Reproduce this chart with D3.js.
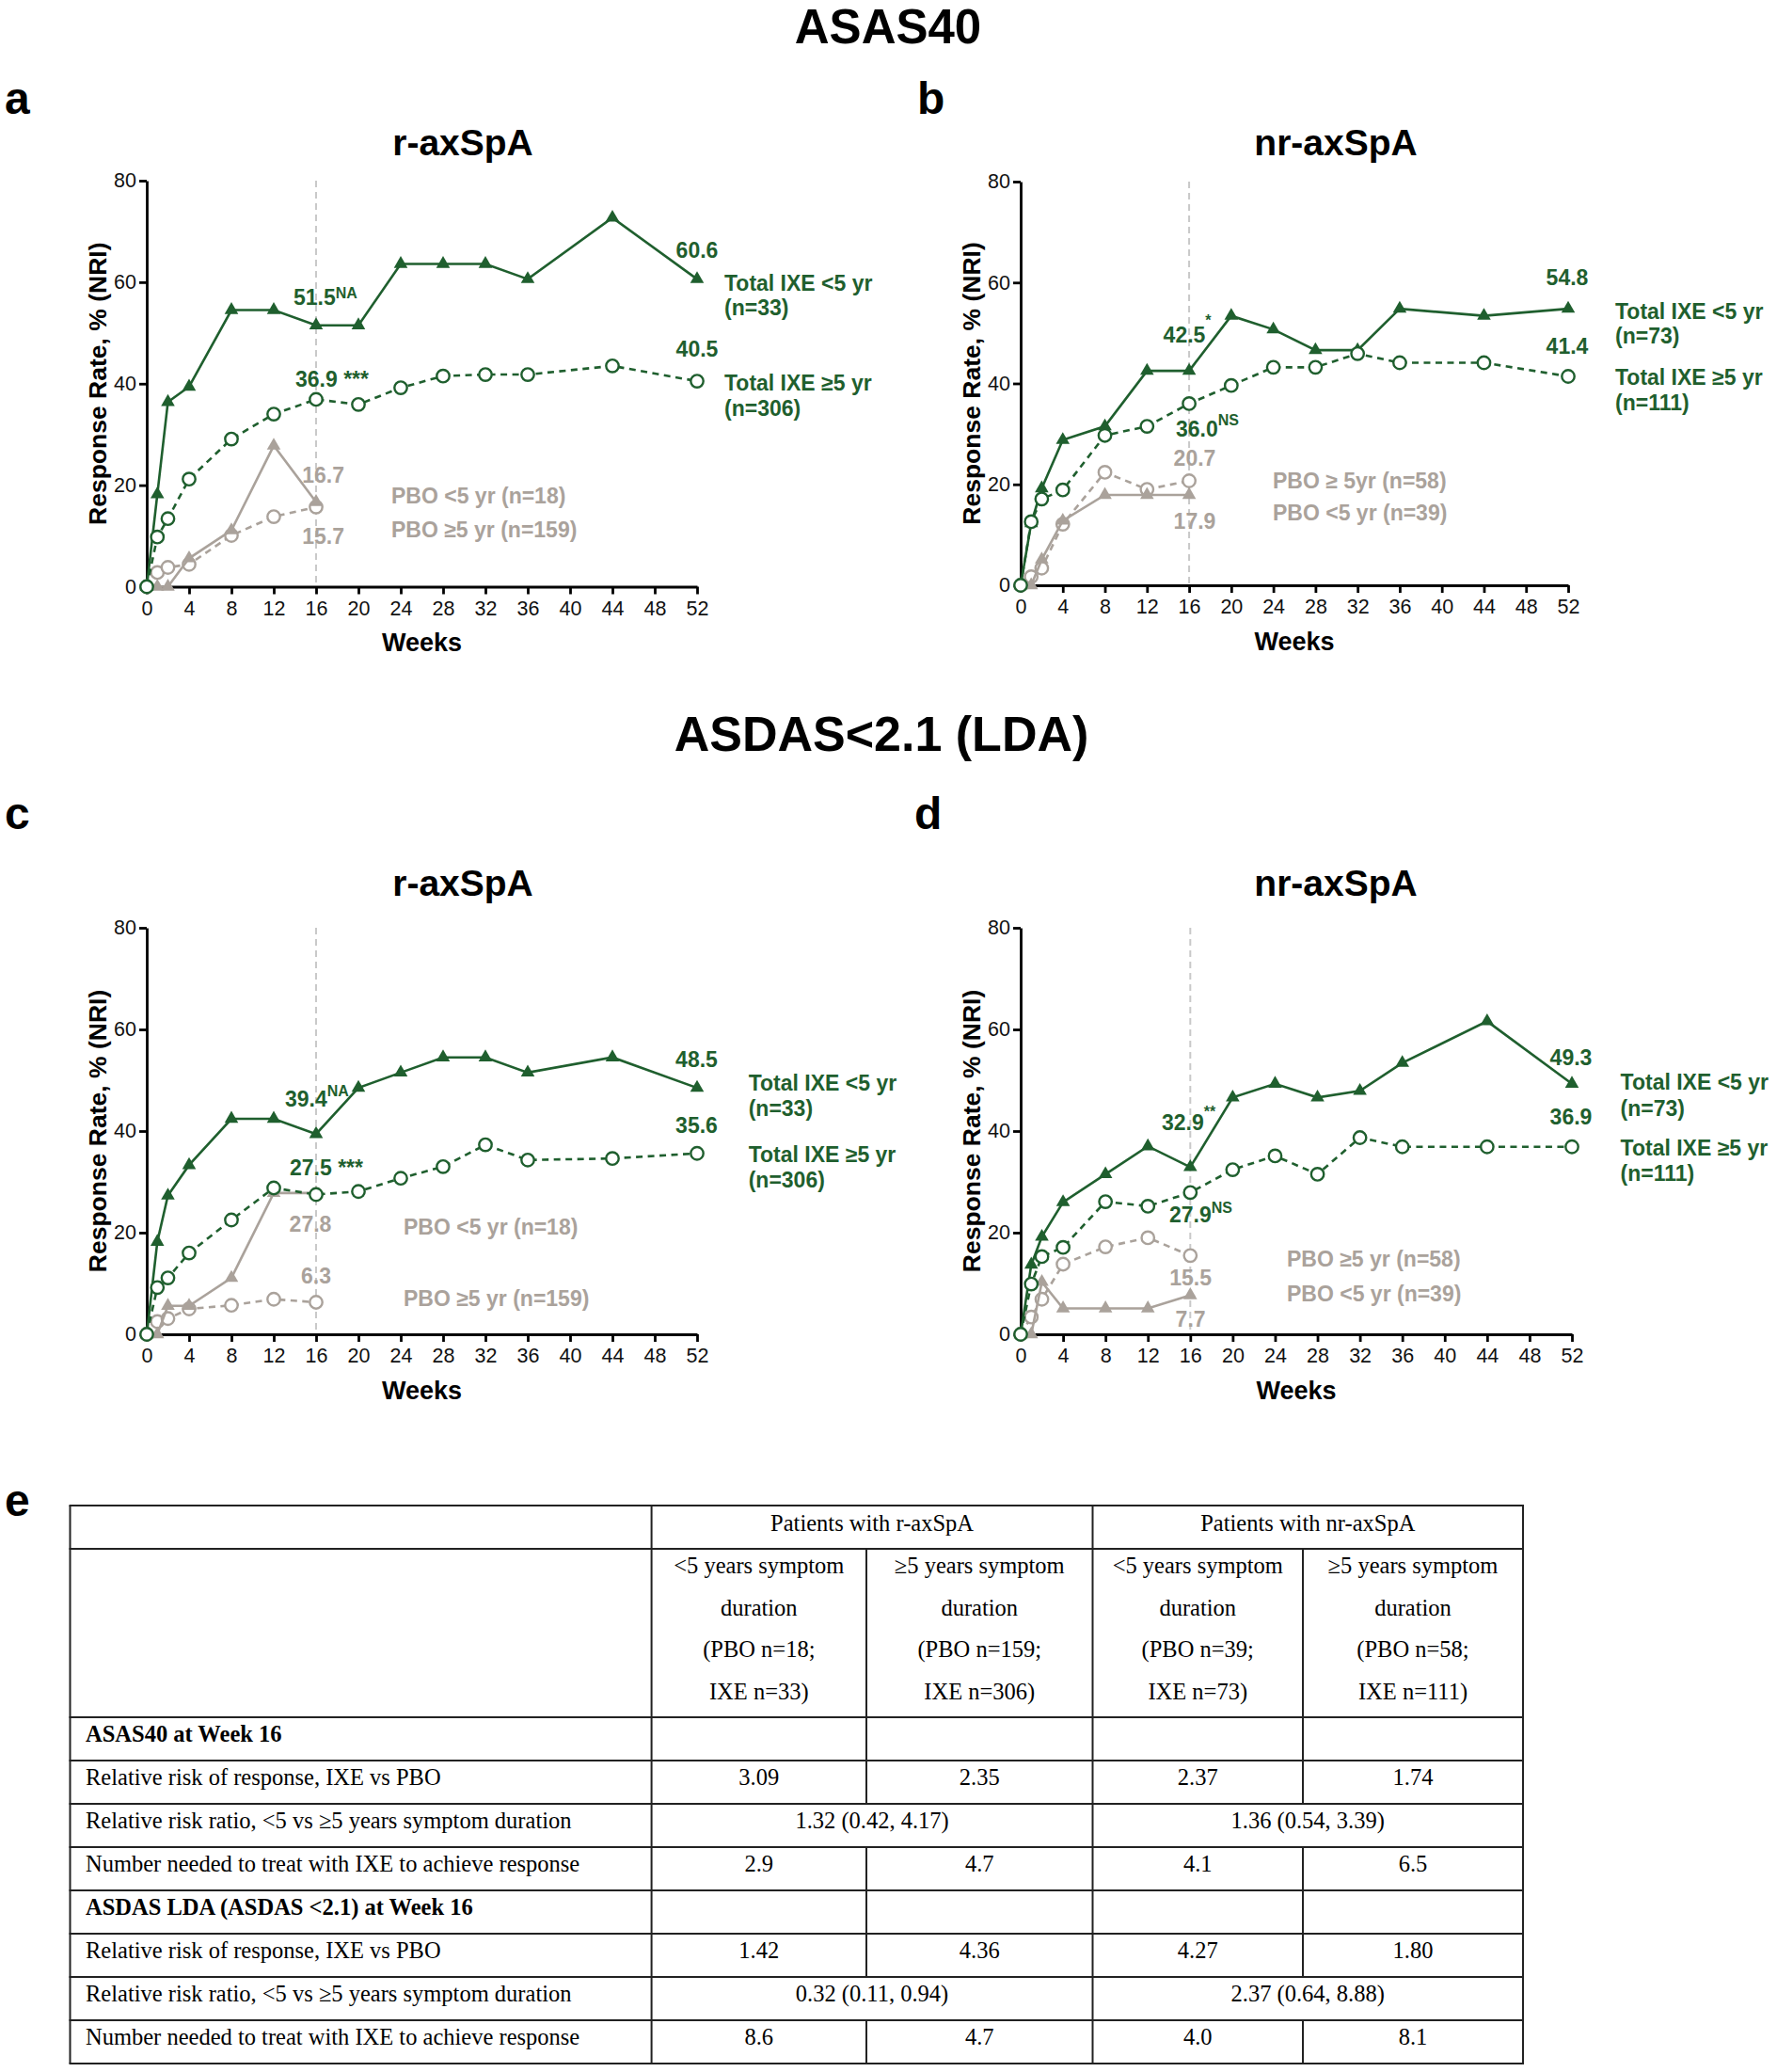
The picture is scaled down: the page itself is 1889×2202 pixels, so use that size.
<!DOCTYPE html>
<html><head><meta charset="utf-8">
<script src="https://cdn.jsdelivr.net/npm/d3@7"></script>
<style>
body{margin:0;background:#fff;}
svg{display:block;}
</style></head>
<body>
<svg id="chart" width="1889" height="2202"></svg>
<script>
// ---------- DATA ----------
const weeksIXE = [0, 1, 2, 4, 8, 12, 16, 20, 24, 28, 32, 36, 44, 52];
const weeksPBO = [0, 1, 2, 4, 8, 12, 16];
const xTicks = [0, 4, 8, 12, 16, 20, 24, 28, 32, 36, 40, 44, 48, 52];
const yTicks = [0, 20, 40, 60, 80];

// ASAS40, r-axSpA
const aIxeLt5 = [0, 18.2, 36.4, 39.4, 54.5, 54.5, 51.5, 51.5, 63.6, 63.6, 63.6, 60.6, 72.7, 60.6];
const aIxeGe5 = [0, 9.8, 13.4, 21.2, 29.1, 34.0, 36.9, 35.9, 39.2, 41.5, 41.8, 41.8, 43.5, 40.5];
const aPboLt5 = [0, 0, 0, 5.6, 11.1, 27.8, 16.7];
const aPboGe5 = [0, 2.8, 3.8, 4.4, 10.1, 13.8, 15.7];
// ASAS40, nr-axSpA
const bIxeLt5 = [0, 12.3, 19.2, 28.8, 31.5, 42.5, 42.5, 53.4, 50.7, 46.6, 46.6, 54.8, 53.4, 54.8];
const bIxeGe5 = [0, 12.6, 17.1, 18.9, 29.7, 31.5, 36.0, 39.6, 43.2, 43.2, 45.9, 44.1, 44.1, 41.4];
const bPboLt5 = [0, 0, 5.1, 12.8, 17.9, 17.9, 17.9];
const bPboGe5 = [0, 1.7, 3.4, 12.1, 22.4, 19.0, 20.7];
// ASDAS LDA, r-axSpA
const cIxeLt5 = [0, 18.2, 27.3, 33.3, 42.4, 42.4, 39.4, 48.5, 51.5, 54.5, 54.5, 51.5, 54.5, 48.5];
const cIxeGe5 = [0, 9.2, 11.1, 16.0, 22.5, 28.8, 27.5, 28.1, 30.7, 33.0, 37.3, 34.3, 34.6, 35.6];
const cPboLt5 = [0, 0, 5.6, 5.6, 11.1, 27.8, 27.8];
const cPboGe5 = [0, 2.5, 3.1, 5.0, 5.7, 6.9, 6.3];
// ASDAS LDA, nr-axSpA
const dIxeLt5 = [0, 13.7, 19.2, 26.0, 31.5, 37.0, 32.9, 46.6, 49.3, 46.6, 47.9, 53.4, 61.6, 49.3];
const dIxeGe5 = [0, 9.9, 15.3, 17.1, 26.1, 25.2, 27.9, 32.4, 35.1, 31.5, 38.7, 36.9, 36.9, 36.9];
const dPboLt5 = [0, 0, 10.3, 5.1, 5.1, 5.1, 7.7];
const dPboGe5 = [0, 3.4, 6.9, 13.8, 17.2, 19.0, 15.5];

// Table
const tableGroupHeaders = ["Patients with r-axSpA", "Patients with nr-axSpA"];
const tableColHeaders = [
  ["<5 years symptom", "duration", "(PBO n=18;", "IXE n=33)"],
  ["\u22655 years symptom", "duration", "(PBO n=159;", "IXE n=306)"],
  ["<5 years symptom", "duration", "(PBO n=39;", "IXE n=73)"],
  ["\u22655 years symptom", "duration", "(PBO n=58;", "IXE n=111)"]
];
const tableRowLabels = [
  "ASAS40 at Week 16",
  "Relative risk of response, IXE vs PBO",
  "Relative risk ratio, <5 vs \u22655 years symptom duration",
  "Number needed to treat with IXE to achieve response",
  "ASDAS LDA (ASDAS <2.1) at Week 16",
  "Relative risk of response, IXE vs PBO",
  "Relative risk ratio, <5 vs \u22655 years symptom duration",
  "Number needed to treat with IXE to achieve response"
];
const tableRowTypes = ["section", "cells", "merged", "cells", "section", "cells", "merged", "cells"];
const tableRowValues = [
  [],
  ["3.09", "2.35", "2.37", "1.74"],
  ["1.32 (0.42, 4.17)", "1.36 (0.54, 3.39)"],
  ["2.9", "4.7", "4.1", "6.5"],
  [],
  ["1.42", "4.36", "4.27", "1.80"],
  ["0.32 (0.11, 0.94)", "2.37 (0.64, 8.88)"],
  ["8.6", "4.7", "4.0", "8.1"]
];

// ---------- STYLE ----------
const GREEN = "#1f5f2e";
const GRAY = "#aaa29b";
const SANS = "'Liberation Sans', Arial, sans-serif";
const SERIF = "'Liberation Serif', 'Times New Roman', serif";

const svg = d3.select("#chart");

function txt(x, y, s, opt) {
  opt = opt || {};
  return svg.append("text").attr("x", x).attr("y", y).text(s)
    .attr("font-family", opt.family || SANS)
    .attr("font-size", opt.size || 23)
    .attr("font-weight", opt.weight || "bold")
    .attr("fill", opt.fill || "#000")
    .attr("text-anchor", opt.anchor || "start");
}
txt(944, 46, "ASAS40", {size: 51, anchor: "middle"});
txt(937, 798, "ASDAS<2.1 (LDA)", {size: 52, anchor: "middle"});
txt(5, 121, "a", {size: 48});
txt(975, 121, "b", {size: 48});
txt(5, 881, "c", {size: 48});
txt(972, 881, "d", {size: 48});
txt(5, 1611, "e", {size: 48});

// ---------- Panels ----------
const panels = [
  {x0: 156, x1: 741, yTop: 192, yBot: 623.5, title: "r-axSpA", titleX: 492, titleY: 165,
   ixeLt5: aIxeLt5, ixeGe5: aIxeGe5, pboLt5: aPboLt5, pboGe5: aPboGe5,
   labels: [
     {t: "51.5", sup: "NA", x: 312, y: 323.6, supDy: -7, c: GREEN},
     {t: "36.9 ***", x: 314, y: 411, c: GREEN},
     {t: "60.6", x: 741, y: 274, a: "middle", c: GREEN},
     {t: "40.5", x: 741, y: 378.7, a: "middle", c: GREEN},
     {t: "16.7", x: 343.6, y: 513, a: "middle", c: GRAY},
     {t: "15.7", x: 343.6, y: 578, a: "middle", c: GRAY},
     {t: "Total IXE <5 yr", x: 770, y: 308.5, c: GREEN},
     {t: "(n=33)", x: 770, y: 335, c: GREEN},
     {t: "Total IXE \u22655 yr", x: 770, y: 414.5, c: GREEN},
     {t: "(n=306)", x: 770, y: 441.6, c: GREEN},
     {t: "PBO <5 yr (n=18)", x: 416, y: 535, c: GRAY},
     {t: "PBO \u22655 yr (n=159)", x: 416, y: 570.6, c: GRAY}
   ]},
  {x0: 1085, x1: 1667, yTop: 193, yBot: 622, title: "nr-axSpA", titleX: 1420, titleY: 165,
   ixeLt5: bIxeLt5, ixeGe5: bIxeGe5, pboLt5: bPboLt5, pboGe5: bPboGe5,
   labels: [
     {t: "42.5", sup: "*", x: 1236.6, y: 363.6, supDy: -18, c: GREEN},
     {t: "36.0", sup: "NS", x: 1250, y: 463.6, supDy: -12, c: GREEN},
     {t: "54.8", x: 1666, y: 303, a: "middle", c: GREEN},
     {t: "41.4", x: 1666, y: 375.5, a: "middle", c: GREEN},
     {t: "20.7", x: 1270, y: 494.8, a: "middle", c: GRAY},
     {t: "17.9", x: 1270, y: 562, a: "middle", c: GRAY},
     {t: "Total IXE <5 yr", x: 1717, y: 338.7, c: GREEN},
     {t: "(n=73)", x: 1717, y: 365, c: GREEN},
     {t: "Total IXE \u22655 yr", x: 1717, y: 409.4, c: GREEN},
     {t: "(n=111)", x: 1717, y: 436, c: GREEN},
     {t: "PBO \u2265 5yr (n=58)", x: 1353, y: 518.7, c: GRAY},
     {t: "PBO <5 yr (n=39)", x: 1353, y: 553, c: GRAY}
   ]},
  {x0: 156, x1: 741, yTop: 986, yBot: 1418, title: "r-axSpA", titleX: 492, titleY: 952,
   ixeLt5: cIxeLt5, ixeGe5: cIxeGe5, pboLt5: cPboLt5, pboGe5: cPboGe5,
   labels: [
     {t: "39.4", sup: "NA", x: 303, y: 1176, supDy: -11, c: GREEN},
     {t: "27.5 ***", x: 308, y: 1249, c: GREEN},
     {t: "48.5", x: 740.5, y: 1134, a: "middle", c: GREEN},
     {t: "35.6", x: 740.5, y: 1203.6, a: "middle", c: GREEN},
     {t: "27.8", x: 330, y: 1309, a: "middle", c: GRAY},
     {t: "6.3", x: 336, y: 1364, a: "middle", c: GRAY},
     {t: "Total IXE <5 yr", x: 795.7, y: 1159, c: GREEN},
     {t: "(n=33)", x: 795.7, y: 1186, c: GREEN},
     {t: "Total IXE \u22655 yr", x: 795.7, y: 1235, c: GREEN},
     {t: "(n=306)", x: 795.7, y: 1261.6, c: GREEN},
     {t: "PBO <5 yr (n=18)", x: 429, y: 1312, c: GRAY},
     {t: "PBO \u22655 yr (n=159)", x: 429, y: 1387.5, c: GRAY}
   ]},
  {x0: 1085, x1: 1671, yTop: 986, yBot: 1418, title: "nr-axSpA", titleX: 1420, titleY: 952,
   ixeLt5: dIxeLt5, ixeGe5: dIxeGe5, pboLt5: dPboLt5, pboGe5: dPboGe5,
   labels: [
     {t: "32.9", sup: "**", x: 1235, y: 1201, supDy: -14, c: GREEN},
     {t: "27.9", sup: "NS", x: 1243, y: 1299, supDy: -10, c: GREEN},
     {t: "49.3", x: 1670, y: 1132, a: "middle", c: GREEN},
     {t: "36.9", x: 1670, y: 1194.6, a: "middle", c: GREEN},
     {t: "15.5", x: 1265.6, y: 1366, a: "middle", c: GRAY},
     {t: "7.7", x: 1265.6, y: 1410, a: "middle", c: GRAY},
     {t: "Total IXE <5 yr", x: 1722.6, y: 1158, c: GREEN},
     {t: "(n=73)", x: 1722.6, y: 1186, c: GREEN},
     {t: "Total IXE \u22655 yr", x: 1722.6, y: 1228, c: GREEN},
     {t: "(n=111)", x: 1722.6, y: 1255, c: GREEN},
     {t: "PBO \u22655 yr (n=58)", x: 1368, y: 1346, c: GRAY},
     {t: "PBO <5 yr (n=39)", x: 1368, y: 1383, c: GRAY}
   ]}
];

panels.forEach(p => {
  const x = d3.scaleLinear().domain([0, 52]).range([p.x0, p.x1]);
  const y = d3.scaleLinear().domain([0, 80]).range([p.yBot, p.yTop]);
  const g = svg.append("g");

  txt(p.titleX, p.titleY, p.title, {size: 39, anchor: "middle"});

  // week-16 reference line
  g.append("line").attr("x1", x(16)).attr("x2", x(16)).attr("y1", y(80)).attr("y2", y(0))
    .attr("stroke", "#c9c9c9").attr("stroke-width", 2).attr("stroke-dasharray", "7,5");

  // axes
  const yAxis = d3.axisLeft(y).tickValues(yTicks).tickSize(8).tickSizeOuter(0).tickPadding(3);
  const xAxis = d3.axisBottom(x).tickValues(xTicks).tickSize(8).tickSizeOuter(0).tickPadding(7);
  const ya = g.append("g").attr("transform", `translate(${p.x0},0)`).call(yAxis);
  const xa = g.append("g").attr("transform", `translate(0,${p.yBot})`).call(xAxis);
  [ya, xa].forEach(a => {
    a.selectAll("path,line").attr("stroke", "#000").attr("stroke-width", 2.8);
    a.selectAll("text").attr("font-family", SANS).attr("font-size", 21.5).attr("fill", "#111");
  });

  txt((p.x0 + p.x1) / 2, p.yBot + 68.5, "Weeks", {size: 27, anchor: "middle"});
  svg.append("text")
    .attr("transform", `translate(${p.x0 - 52},${(p.yTop + p.yBot) / 2}) rotate(-90)`)
    .attr("text-anchor", "middle").attr("dy", "0.35em")
    .attr("font-family", SANS).attr("font-size", 26.5).attr("font-weight", "bold")
    .text("Response Rate, % (NRI)");

  const line = (weeks) => d3.line().x((d, i) => x(weeks[i])).y(d => y(d));
  const tri = d3.symbol().type(d3.symbolTriangle).size(92);

  function series(vals, weeks, color, dashed, marker) {
    g.append("path").datum(vals).attr("d", line(weeks))
      .attr("fill", "none").attr("stroke", color).attr("stroke-width", 2.6)
      .attr("stroke-dasharray", dashed ? "7,5.5" : null);
    if (marker === "circle") {
      g.selectAll(null).data(vals).enter().append("circle")
        .attr("cx", (d, i) => x(weeks[i])).attr("cy", d => y(d)).attr("r", 6.7)
        .attr("fill", "#fff").attr("stroke", color).attr("stroke-width", 2.4);
    } else {
      g.selectAll(null).data(vals).enter().append("path")
        .attr("d", tri)
        .attr("transform", (d, i) => `translate(${x(weeks[i])},${y(d)})`)
        .attr("fill", color);
    }
  }
  series(p.pboGe5, weeksPBO, GRAY, true, "circle");
  series(p.pboLt5, weeksPBO, GRAY, false, "triangle");
  series(p.ixeLt5, weeksIXE, GREEN, false, "triangle");
  series(p.ixeGe5, weeksIXE, GREEN, true, "circle");

  p.labels.forEach(l => {
    const t = svg.append("text").attr("x", l.x).attr("y", l.y)
      .attr("font-family", SANS).attr("font-size", 23).attr("font-weight", "bold")
      .attr("fill", l.c).attr("text-anchor", l.a || "start");
    t.append("tspan").text(l.t);
    if (l.sup) {
      t.append("tspan").attr("dy", l.supDy).attr("font-size", 16).text(l.sup);
    }
  });
});

// ---------- Table ----------
const colX = [74.5, 692.6, 921, 1161.5, 1385, 1619];
const rowY = [1600, 1646, 1825, 1871, 1917, 1963, 2009, 2055, 2101, 2147, 2193];
const tg = svg.append("g");
const ls = (x1, y1, x2, y2) => tg.append("line").attr("x1", x1).attr("y1", y1).attr("x2", x2).attr("y2", y2)
  .attr("stroke", "#222").attr("stroke-width", 2);
rowY.forEach(yy => ls(colX[0] - 1, yy, colX[5] + 1, yy));
[0, 1, 3, 5].forEach(c => ls(colX[c], rowY[0], colX[c], rowY[rowY.length - 1]));
[2, 4].forEach(c => {
  ls(colX[c], rowY[1], colX[c], rowY[2]);
  tableRowTypes.forEach((tp, r) => {
    if (tp !== "merged") ls(colX[c], rowY[r + 2], colX[c], rowY[r + 3]);
  });
});
function ttxt(x, yy, s, opt) {
  opt = opt || {};
  return tg.append("text").attr("x", x).attr("y", yy).text(s)
    .attr("font-family", SERIF).attr("font-size", 24.5)
    .attr("font-weight", opt.bold ? "bold" : "normal")
    .attr("text-anchor", opt.anchor || "middle").attr("fill", "#000");
}
tableGroupHeaders.forEach((h, i) => {
  const cx = i === 0 ? (colX[1] + colX[3]) / 2 : (colX[3] + colX[5]) / 2;
  ttxt(cx, rowY[0] + 27, h);
});
tableColHeaders.forEach((lines, i) => {
  const cx = (colX[i + 1] + colX[i + 2]) / 2;
  lines.forEach((s, j) => ttxt(cx, rowY[1] + 26 + j * 44.6, s));
});
tableRowLabels.forEach((lab, r) => {
  const yy = rowY[r + 2] + 26;
  const tp = tableRowTypes[r];
  ttxt(91, yy, lab, {anchor: "start", bold: tp === "section"});
  const vals = tableRowValues[r];
  if (tp === "cells") {
    vals.forEach((v, i) => ttxt((colX[i + 1] + colX[i + 2]) / 2, yy, v));
  } else if (tp === "merged") {
    ttxt((colX[1] + colX[3]) / 2, yy, vals[0]);
    ttxt((colX[3] + colX[5]) / 2, yy, vals[1]);
  }
});
</script>
</body></html>
